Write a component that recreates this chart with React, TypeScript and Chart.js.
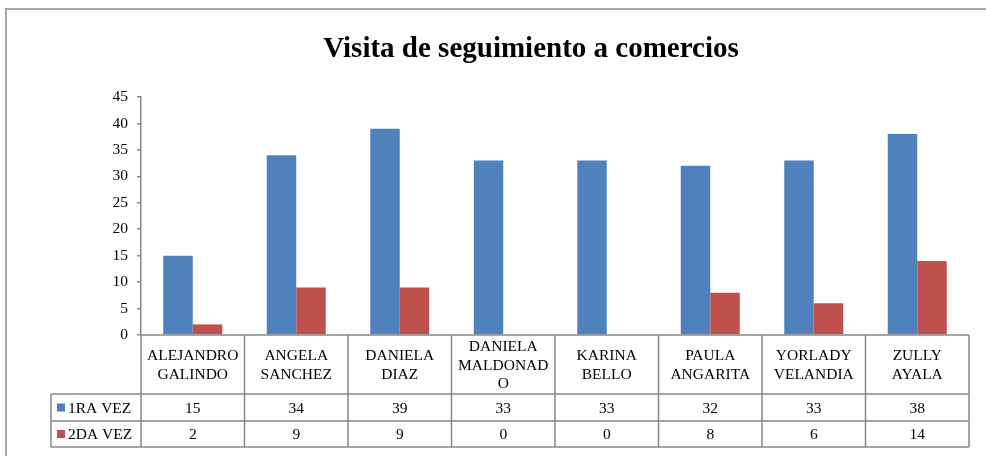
import React, { useEffect, useRef } from "react";
import { Chart, registerables } from "chart.js";

Chart.register(...registerables);

const TITLE = "Visita de seguimiento a comercios";
const categories: string[][] = [
  ["ALEJANDRO", "GALINDO"],
  ["ANGELA", "SANCHEZ"],
  ["DANIELA", "DIAZ"],
  ["DANIELA", "MALDONAD", "O"],
  ["KARINA", "BELLO"],
  ["PAULA", "ANGARITA"],
  ["YORLADY", "VELANDIA"],
  ["ZULLY", "AYALA"],
];
const seriesNames = ["1RA VEZ", "2DA VEZ"];
const primeraVez = [15, 34, 39, 33, 33, 32, 33, 38];
const segundaVez = [2, 9, 9, 0, 0, 8, 6, 14];
const seriesColors = ["#4F81BD", "#C0504D"];

const SERIF = '"Liberation Serif", "Times New Roman", serif';
const LINE = "#878787";

const tablePlugin = {
  id: "dataTable",
  beforeDraw(chart: any) {
    const ctx = chart.ctx;
    ctx.save();
    ctx.fillStyle = "#ffffff";
    ctx.fillRect(0, 0, chart.width, chart.height);
    ctx.strokeStyle = "#a6a6a6";
    ctx.lineWidth = 2;
    ctx.strokeRect(6, 9, chart.width + 20, chart.height + 20);
    ctx.restore();
  },
  afterDraw(chart: any) {
    const ctx = chart.ctx;
    const area = chart.chartArea;
    const n = categories.length;
    const colW = (area.right - area.left) / n;
    const headerBottom = area.bottom + 59;
    const row1Bottom = headerBottom + 27;
    const row2Bottom = row1Bottom + 26;
    const legendLeft = 51;

    ctx.save();
    // title
    ctx.fillStyle = "#000";
    ctx.font = `bold 29px ${SERIF}`;
    ctx.textAlign = "center";
    ctx.textBaseline = "alphabetic";
    ctx.fillText(TITLE, 531, 57);

    // grid lines
    ctx.strokeStyle = LINE;
    ctx.lineWidth = 1.5;
    ctx.beginPath();
    ctx.moveTo(area.left, area.bottom);
    ctx.lineTo(area.right, area.bottom);
    for (let i = 0; i <= n; i++) {
      const x = area.left + i * colW;
      ctx.moveTo(x, area.bottom);
      ctx.lineTo(x, row2Bottom);
    }
    [headerBottom, row1Bottom, row2Bottom].forEach((y) => {
      ctx.moveTo(legendLeft, y);
      ctx.lineTo(area.right, y);
    });
    ctx.moveTo(legendLeft, headerBottom);
    ctx.lineTo(legendLeft, row2Bottom);
    ctx.stroke();

    // header labels
    ctx.fillStyle = "#000";
    ctx.font = `15.5px ${SERIF}`;
    ctx.textBaseline = "middle";
    ctx.textAlign = "center";
    const xScale = chart.scales.x;
    const headerMid = (area.bottom + headerBottom) / 2 + 1;
    const lh = 18.3;
    categories.forEach((lines, i) => {
      const cx = xScale.getPixelForValue(i);
      const start = headerMid - ((lines.length - 1) * lh) / 2;
      lines.forEach((t, j) => ctx.fillText(t, cx, start + j * lh));
    });

    // rows
    const rows = [primeraVez, segundaVez];
    const rowMids = [(headerBottom + row1Bottom) / 2 + 1, (row1Bottom + row2Bottom) / 2 + 1];
    rows.forEach((vals, r) => {
      const y = rowMids[r];
      ctx.textAlign = "center";
      ctx.fillStyle = "#000";
      vals.forEach((v, i) => ctx.fillText(String(v), xScale.getPixelForValue(i), y));
      ctx.fillStyle = seriesColors[r];
      ctx.fillRect(57, y - 5, 8, 8);
      ctx.fillStyle = "#000";
      ctx.textAlign = "left";
      ctx.fillText(seriesNames[r], 68, y);
    });
    ctx.restore();
  },
};

export default function App() {
  const ref = useRef<HTMLCanvasElement | null>(null);
  useEffect(() => {
    if (!ref.current) return;
    const chart = new Chart(ref.current, {
      type: "bar",
      data: {
        labels: categories.map((c) => c.join(" ")),
        datasets: [
          {
            label: seriesNames[0],
            data: primeraVez,
            backgroundColor: seriesColors[0],
            borderWidth: 0,
            categoryPercentage: 0.57,
            barPercentage: 1,
          },
          {
            label: seriesNames[1],
            data: segundaVez,
            backgroundColor: seriesColors[1],
            borderWidth: 0,
            categoryPercentage: 0.57,
            barPercentage: 1,
          },
        ],
      },
      options: {
        responsive: false,
        animation: false,
        layout: { padding: { left: 100, right: 17, top: 97, bottom: 121 } },
        plugins: {
          legend: { display: false },
          title: { display: false },
          tooltip: { enabled: false },
        },
        scales: {
          x: {
            ticks: { display: false },
            grid: { display: false },
            border: { display: false },
            afterFit: (s: any) => {
              s.height = 0;
            },
          },
          y: {
            min: 0,
            max: 45,
            ticks: {
              stepSize: 5,
              padding: 9,
              color: "#000",
              font: { family: SERIF, size: 15.5 },
            },
            grid: {
              drawOnChartArea: false,
              drawTicks: true,
              tickLength: 4,
              color: LINE,
              lineWidth: 1.5,
            },
            border: { display: true, color: LINE, width: 1.5 },
            afterFit: (s: any) => {
              s.width = 41;
            },
          },
        },
      },
      plugins: [tablePlugin],
    });
    return () => chart.destroy();
  }, []);
  return (
    <div style={{ position: "fixed", left: 0, top: 0, width: 986, height: 456, background: "#fff" }}>
      <canvas ref={ref} width={986} height={456} style={{ display: "block" }} />
    </div>
  );
}
